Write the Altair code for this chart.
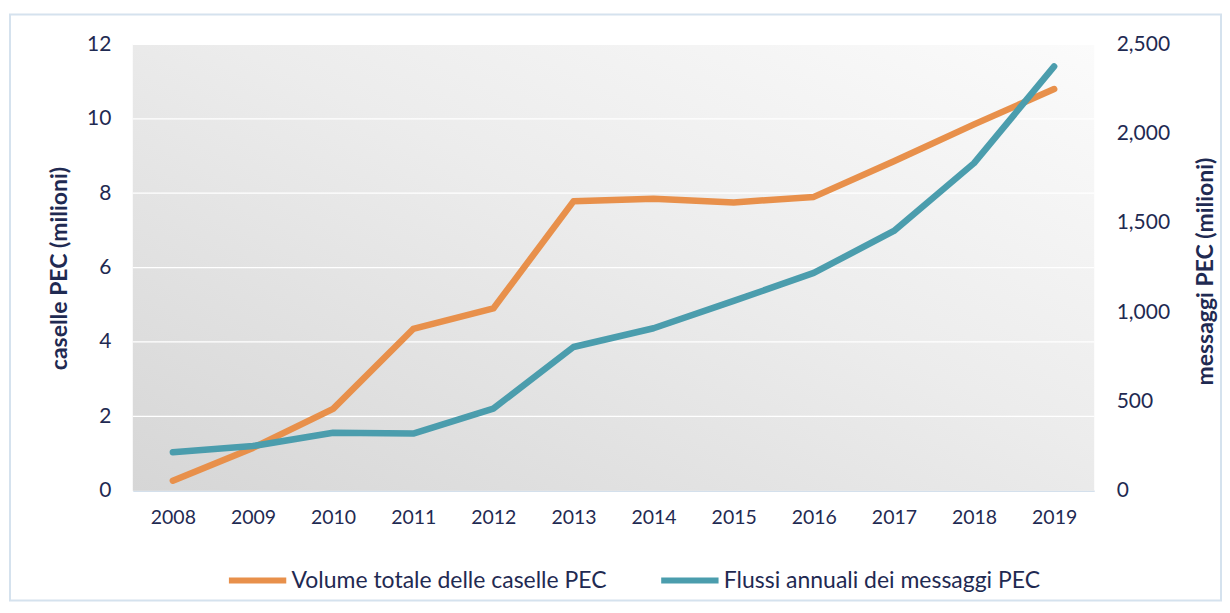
import altair as alt
import pandas as pd

years = ["2008", "2009", "2010", "2011", "2012", "2013", "2014", "2015", "2016", "2017", "2018", "2019"]
caselle = [0.27, 1.15, 2.2, 4.35, 4.9, 7.78, 7.85, 7.75, 7.9, 8.86, 9.85, 10.8]
messaggi = [215, 250, 325, 320, 460, 805, 910, 1063, 1220, 1455, 1835, 2377]
left_ticks = [0, 2, 4, 6, 8, 10, 12]
right_ticks = [0, 500, 1000, 1500, 2000, 2500]

S1 = "Volume totale delle caselle PEC"
S2 = "Flussi annuali dei messaggi PEC"

df = pd.DataFrame(
    {"anno": years * 2,
     "serie": [S1] * len(years) + [S2] * len(years),
     "valore": caselle + messaggi}
)

TXT = "#1f2a52"
FONT = "Lato"
W, H = 963, 447

color = alt.Color(
    "serie:N",
    scale=alt.Scale(domain=[S1, S2], range=["#e8904b", "#4b9dad"]),
    legend=alt.Legend(
        title=None, orient="none", legendX=93, legendY=505, direction="horizontal",
        symbolType="stroke", symbolSize=3300, symbolStrokeWidth=6,
        labelFontSize=23, labelFont=FONT, labelColor=TXT, labelOffset=2,
        columnPadding=42, labelLimit=600,
    ),
)

xenc = alt.X(
    "anno:O", title=None,
    scale=alt.Scale(type="point", padding=0.5),
    axis=alt.Axis(labelAngle=0, ticks=False, labelPadding=18, labelFontSize=19.5,
                  labelFont=FONT, labelColor=TXT, domainColor="#d4e0ec", domainWidth=1.5,
                  grid=False),
)

one = pd.DataFrame({"a": [0]})

border = alt.Chart(one).mark_rect(
    fill=None, stroke="#d5e2ee", strokeWidth=2
).encode(x=alt.value(-123), x2=alt.value(1090), y=alt.value(-30), y2=alt.value(557))

bg = alt.Chart(one).mark_rect(
    color=alt.LinearGradient(
        gradient="linear", x1=0, y1=1, x2=1, y2=0,
        stops=[alt.GradientStop(color="#d6d6d6", offset=0),
               alt.GradientStop(color="#ececec", offset=0.55),
               alt.GradientStop(color="#fbfbfb", offset=1)],
    )
).encode(x=alt.value(0), x2=alt.value(W), y=alt.value(0), y2=alt.value(H))

grid = alt.Chart(pd.DataFrame({"v": left_ticks[1:]})).mark_rule(
    color="#ffffff", strokeWidth=1.2
).encode(
    y=alt.Y("v:Q", scale=alt.Scale(domain=[0, 12]), axis=None),
)

line1 = alt.Chart(df).transform_filter(alt.datum.serie == S1).mark_line(
    strokeWidth=6.5, strokeCap="round", strokeJoin="round"
).encode(
    x=xenc,
    y=alt.Y("valore:Q", title="caselle PEC (milioni)",
            scale=alt.Scale(domain=[0, 12]),
            axis=alt.Axis(orient="left", values=left_ticks, ticks=False, domain=False, grid=False,
                          labelPadding=22, labelFontSize=21, labelFont=FONT, labelColor=TXT,
                          titleFont=FONT, titleFontSize=23, titleFontWeight="bold", titleColor=TXT,
                          titleX=-73, titleY=224, titleAngle=270, titleAlign="center",
                          titleBaseline="middle")),
    color=color,
)

line2 = alt.Chart(df).transform_filter(alt.datum.serie == S2).mark_line(
    strokeWidth=6.5, strokeCap="round", strokeJoin="round"
).encode(
    x=xenc,
    y=alt.Y("valore:Q", title="messaggi PEC (milioni)",
            scale=alt.Scale(domain=[0, 2500]),
            axis=alt.Axis(orient="right", values=right_ticks, format=",.0f",
                          ticks=False, domain=False, grid=False,
                          labelPadding=22, labelFontSize=21, labelFont=FONT, labelColor=TXT,
                          titleFont=FONT, titleFontSize=23, titleFontWeight="bold", titleColor=TXT,
                          titleX=111, titleY=227, titleAngle=270, titleAlign="center",
                          titleBaseline="middle")),
    color=color,
)

chart = alt.layer(border, bg, grid, line1, line2).resolve_scale(y="independent").properties(
    width=W, height=H,
    padding={"left": 1, "top": 5, "right": 0, "bottom": 0},
    background="#ffffff",
).configure_view(stroke=None)

chart.save("out.html", embed_options={"renderer": "svg", "actions": False})
